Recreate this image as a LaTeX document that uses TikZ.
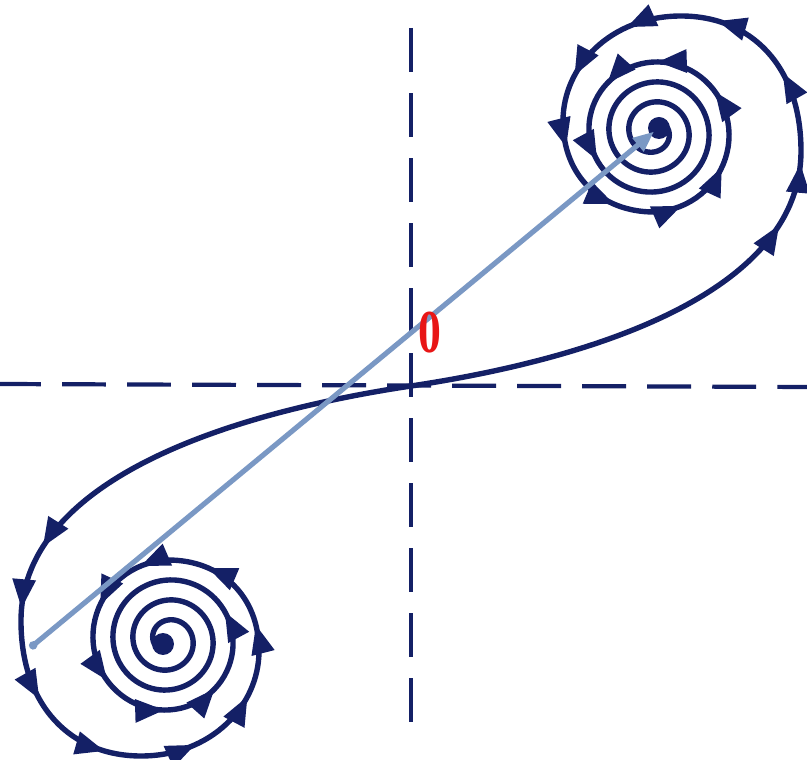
\documentclass[tikz,border=0pt]{standalone}
\usepackage{fontspec}
\setmainfont{Liberation Serif}
\usetikzlibrary{arrows.meta,decorations.markings}
\definecolor{navy}{RGB}{20,32,102}
\definecolor{steel}{RGB}{122,152,196}
\definecolor{zerored}{RGB}{232,22,22}
\tikzset{
  flowtip/.tip={Triangle[length=25pt,width=19pt]},
  axisline/.style={navy, line width=3.6pt, dash pattern=on 37.5pt off 18pt},
  orbit/.style={navy, line width=4.6pt, postaction={decorate},
    decoration={markings,
      mark=at position 352pt with {\arrow{flowtip}},
      mark=at position 408pt with {\arrow{flowtip}},
      mark=at position 488pt with {\arrow{flowtip}},
      mark=at position 561pt with {\arrow{flowtip}},
      mark=at position 640pt with {\arrow{flowtip}},
      mark=at position 702pt with {\arrow{flowtip}},
      mark=at position 765pt with {\arrow{flowtip}},
      mark=at position 831pt with {\arrow{flowtip}},
      mark=at position 890pt with {\arrow{flowtip}},
      mark=at position 939pt with {\arrow{flowtip}},
      mark=at position 1007pt with {\arrow{flowtip}},
      mark=at position 1064pt with {\arrow{flowtip}},
      mark=at position 1112pt with {\arrow{flowtip}},
      mark=at position 1183pt with {\arrow{flowtip}}}},
  pointer/.style={steel, line width=4.4pt, {Circle[length=7pt]}-{Triangle[length=18pt,width=14pt]}},
  zerolabel/.style={text=zerored, font=\fontsize{52}{52}\selectfont\bfseries, xscale=0.75, inner sep=0pt},
}
\begin{document}
\begin{tikzpicture}[x=0.03cm,y=0.03cm]
  \useasboundingbox (-411,-374) rectangle (396,386);
  % axes
  \coordinate (west) at (-414,2);
  \coordinate (east) at (400,-1);
  \coordinate (north) at (0,358);
  \coordinate (south) at (0,-354);
  \draw[axisline] (west) -- (east);
  \draw[axisline] (north) -- (south);
  % the two spiralling halves
  \foreach \ang in {0,180} {
    \begin{scope}[rotate=\ang]
      \draw[orbit] (0,0) .. controls (200,30) and (390,100) .. (390,235)
        .. controls (390,320) and (340,370) .. (270,370)
        .. controls (200,370) and (152,320) .. (152,265)
        .. controls (152,210) and (190,174) .. (243,174)
        -- plot[domain=0:3.35, samples=260, variable=\t]
          ({243+(80-20*\t)*cos(360*\t-90)}, {254+(80-20*\t)*sin(360*\t-90)});
      \fill[navy] (248,258) circle (11);
    \end{scope}
  }
  \coordinate (lowend) at (-381,-262);
  \coordinate (focus) at (245,256);
  \draw[pointer, shorten >=2pt] (lowend) -- (focus);
  \node[zerolabel] (zero) at (19,53) {0};
\end{tikzpicture}
\end{document}
